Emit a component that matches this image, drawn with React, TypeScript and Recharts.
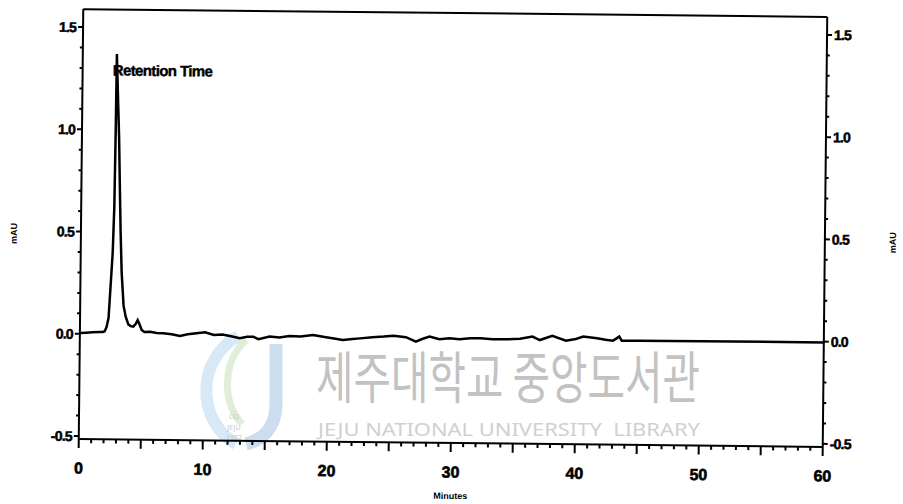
import { LineChart, Line, XAxis, YAxis, ReferenceLine, ReferenceDot, Label } from 'recharts';

// chromatogram trace (minutes / mAU)
const TIME = [
  0, 0.5, 1.0, 1.5, 1.86, 2.0, 2.15, 2.3, 2.44, 2.58, 2.67, 2.72, 2.75, 2.82, 2.9, 3.0,
  3.1, 3.2, 3.32, 3.5, 3.68, 3.9, 4.1, 4.3, 4.5, 4.65, 4.8, 4.98, 5.2, 5.65, 6.2, 6.7,
  7.4, 8.07, 8.7, 9.4, 10.1, 10.8, 11.5, 12.1, 12.9, 13.5, 13.98, 14.4, 15.3, 16.1, 16.9,
  17.8, 18.8, 19.85, 20.5, 21.2, 22.0, 22.6, 23.6, 24.5, 25.3, 26.3, 27.1, 27.6, 28.2,
  29.0, 29.8, 30.6, 31.5, 32.3, 33.3, 34.4, 35.5, 36.5, 37.1, 38.1, 39.2, 40.0, 40.6,
  41.7, 42.4, 43.0, 43.5, 43.7, 45, 60,
];
const MAU = [
  0.004, 0.006, 0.008, 0.01, 0.01, 0.014, 0.035, 0.08, 0.24, 0.4, 0.62, 1.0, 1.37, 1.25, 1.12, 0.96,
  0.72, 0.5, 0.3, 0.14, 0.086, 0.048, 0.04, 0.038, 0.052, 0.07, 0.05, 0.022, 0.012, 0.014, 0.008, 0.007,
  0.002, -0.005, 0.003, 0.009, 0.014, 0.001, 0.004, -0.003, -0.013, -0.006, -0.005, -0.017, -0.004, -0.008, 0.0,
  -0.002, 0.006, -0.004, -0.01, -0.017, -0.012, -0.008, -0.002, 0.002, 0.007, 0.0, -0.021, -0.008, 0.004,
  -0.008, -0.003, -0.007, -0.002, -0.001, -0.006, -0.005, -0.002, 0.01, -0.007, 0.014, -0.009, 0.0, 0.012,
  0.005, -0.002, -0.006, 0.014, -0.006, -0.005, -0.004,
];

const X_LABELS = [0, 10, 20, 30, 40, 50, 60];
const Y_LABELS = [-0.5, 0, 0.5, 1.0, 1.5];
const X_TICKS = Array.from({ length: 61 }, (_, i) => i);
const Y_TICKS = Array.from({ length: 21 }, (_, i) => (i - 5) / 10);
const Y_DOMAIN = [-0.515, 1.588];

const data = TIME.map((t, i) => ({ t, v: MAU[i] }));
const apex = data.reduce((a, b) => (b.v > a.v ? b : a));

const NARROW = "'Liberation Sans Narrow', 'Arial Narrow', sans-serif";
const WIDE = "'Liberation Sans', Arial, sans-serif";

function XTick({ x, y, payload }: any) {
  const v = payload.value;
  const len = v % 5 === 0 ? 9 : 4;
  return (
    <g>
      <line x1={x} x2={x} y1={y} y2={y + len} stroke="#000" strokeWidth={2} />
      {X_LABELS.includes(v) && (
        <text x={x} y={y + 29} textAnchor="middle" dominantBaseline="central" stroke="#000" strokeWidth={0.6}
          fontFamily={NARROW} fontWeight="bold" fontSize={16} fill="#000">{v}</text>
      )}
    </g>
  );
}

const makeYTick = (side: 'left' | 'right') => ({ x, y, payload }: any) => {
  const v = payload.value;
  const major = Y_LABELS.some(l => Math.abs(l - v) < 1e-6);
  const dir = side === 'left' ? -1 : 1;
  const len = major ? 5 : 3;
  return (
    <g>
      <line x1={x} x2={x + dir * len} y1={y} y2={y} stroke="#000" strokeWidth={2} />
      {major && (
        <text x={x + dir * 7} y={y} textAnchor={side === 'left' ? 'end' : 'start'} dominantBaseline="central"
          stroke="#000" strokeWidth={0.5}
          fontFamily={WIDE} fontWeight="bold" fontSize={14} letterSpacing={-0.8} fill="#000">{v.toFixed(1)}</text>
      )}
    </g>
  );
};

const mauLabel = (side: 'left' | 'right') => ({ viewBox }: any) => {
  const cx = side === 'left' ? viewBox.x - 7 : viewBox.x + 68;
  const cy = viewBox.y + viewBox.height / 2 + 10;
  return (
    <text x={cx} y={cy} transform={`rotate(-90 ${cx} ${cy})`} textAnchor="middle" dominantBaseline="central"
      fontFamily={NARROW} fontWeight="bold" fontSize={9} fill="#000">mAU</text>
  );
};

function Watermark() {
  return (
    <svg width={903} height={504} style={{ position: 'absolute', left: 0, top: 0 }}>
      <g opacity={0.35}>
        <path d="M 238 336 C 196 360, 196 420, 236 444" fill="none" stroke="#8fc3e6" strokeWidth={12} />
        <path d="M 246 340 C 222 362, 222 402, 242 424" fill="none" stroke="#a7d08c" strokeWidth={7} />
        <path d="M 276 344 L 276 404 C 276 428, 262 440, 246 444" fill="none" stroke="#6f9fd6" strokeWidth={13} />
      </g>
      <g fill="#c8c8c8" fontFamily="'Noto Sans'" fontSize={7} textAnchor="middle">
        <text x={234} y={419}>CQ</text>
        <text x={234} y={430}>JEJU</text>
        <text x={234} y={440}>1952</text>
      </g>
      <text x={316} y={373} dominantBaseline="central" textLength={384} lengthAdjust="spacingAndGlyphs"
        fontFamily="'Noto Sans CJK KR'" fontSize={56} fill="#c2c2c2">제주대학교 중앙도서관</text>
      <text x={318} y={429} dominantBaseline="central" textLength={382} lengthAdjust="spacingAndGlyphs"
        fontFamily="'Noto Sans'" fontSize={18} fill="#d0d0d0" style={{ whiteSpace: 'pre' }}>JEJU NATIONAL UNIVERSITY  LIBRARY</text>
    </svg>
  );
}

export default function App() {
  return (
    <div style={{ position: 'absolute', left: 0, top: 0, width: 903, height: 504, background: '#fff', overflow: 'hidden' }}>
      <Watermark />
      <div style={{ position: 'absolute', left: 0, top: 0, transform: 'rotate(0.6deg)', transformOrigin: '452px 228px' }}>
        <LineChart width={903} height={504} data={data} margin={{ top: 13, right: 18, bottom: 21, left: 21 }}>
          <XAxis dataKey="t" type="number" domain={[0, 60]} ticks={X_TICKS} interval={0} allowDataOverflow
            tick={<XTick />} tickLine={false} tickSize={0} tickMargin={0} height={40}
            axisLine={{ stroke: '#000', strokeWidth: 2 }}>
            <Label content={({ viewBox }: any) => (
              <text x={viewBox.x + viewBox.width / 2} y={viewBox.y + 53} textAnchor="middle" dominantBaseline="central"
                fontFamily={NARROW} fontWeight="bold" fontSize={9} fill="#000">Minutes</text>
            )} />
          </XAxis>
          <YAxis yAxisId="left" type="number" domain={Y_DOMAIN} ticks={Y_TICKS} interval={0} allowDataOverflow
            tick={makeYTick('left')} tickLine={false} tickSize={0} tickMargin={0} width={60}
            axisLine={{ stroke: '#000', strokeWidth: 2 }}>
            <Label content={mauLabel('left')} />
          </YAxis>
          <YAxis yAxisId="right" orientation="right" type="number" domain={Y_DOMAIN} ticks={Y_TICKS} interval={0} allowDataOverflow
            tick={makeYTick('right')} tickLine={false} tickSize={0} tickMargin={0} width={60}
            axisLine={{ stroke: '#000', strokeWidth: 2 }}>
            <Label content={mauLabel('right')} />
          </YAxis>
          <ReferenceLine yAxisId="left" y={Y_DOMAIN[1]} stroke="#000" strokeWidth={2} />
          <Line yAxisId="left" dataKey="v" type="linear" stroke="#000" strokeWidth={2.5} dot={false} isAnimationActive={false} />
          <ReferenceDot yAxisId="left" x={apex.t} y={apex.v} r={0} fill="none" stroke="none"
            label={({ viewBox }: any) => (
              <text x={viewBox.x - 4} y={viewBox.y + 16} dominantBaseline="central" stroke="#000" strokeWidth={0.4}
                fontFamily={NARROW} fontWeight="bold" fontSize={15} letterSpacing={-0.6} fill="#000">Retention Time</text>
            )} />
        </LineChart>
      </div>
    </div>
  );
}
